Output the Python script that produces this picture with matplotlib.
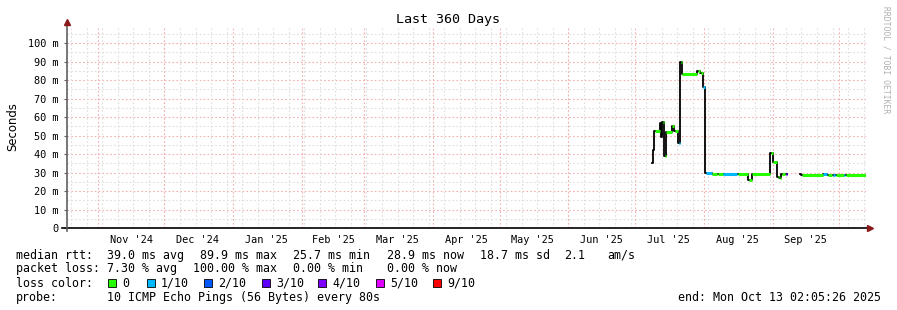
import matplotlib
matplotlib.use("Agg")
import matplotlib.pyplot as plt
import matplotlib.dates as mdates
import numpy as np
from matplotlib.patches import Rectangle

plt.rcParams["font.family"] = ["DejaVu Sans Mono"]

# ---- data ----------------------------------------------------------------
start_time = np.datetime64("2024-10-18T02:05:26")
end_time = np.datetime64("2025-10-13T02:05:26")

step_start = [
    "2025-07-08T20:00", "2025-07-09T06:00", "2025-07-09T18:00", "2025-07-12T06:00",
    "2025-07-12T18:00", "2025-07-13T06:00", "2025-07-14T00:00", "2025-07-14T18:00",
    "2025-07-17T12:00", "2025-07-18T12:00", "2025-07-20T12:00", "2025-07-21T12:00",
    "2025-07-22T00:00", "2025-07-29T00:00", "2025-07-30T06:00", "2025-07-31T12:00",
    "2025-08-01T12:00", "2025-08-04T12:00", "2025-08-07T00:00", "2025-08-09T12:00",
    "2025-08-16T00:00", "2025-08-21T00:00", "2025-08-22T12:00", "2025-08-31T00:00",
    "2025-09-01T00:00", "2025-09-03T00:00", "2025-09-04T00:00", "2025-09-05T00:00",
    "2025-09-06T12:00", "2025-09-07T12:00", "2025-09-13T06:00", "2025-09-14T00:00",
    "2025-09-23T12:00", "2025-09-25T12:00", "2025-09-27T18:00", "2025-09-29T00:00",
    "2025-10-03T00:00", "2025-10-03T18:00",
]
median_ms = [
    35.0, 42.0, 52.5, 57.0,
    49.0, 57.5, 39.0, 52.0,
    55.0, 52.5, 46.0, 90.0,
    83.0, 85.0, 84.0, 76.0,
    29.5, 29.3, 29.2, 29.3,
    29.2, 26.0, 29.0, 40.5,
    35.5, 27.5, 27.0, 29.3,
    29.3, np.nan, 29.0, 28.8,
    29.0, 28.8, 28.9, 28.8,
    28.9, 28.8,
]
loss_idx = [
    0, 1, 0, 0,
    1, 0, 0, 0,
    0, 0, 1, 0,
    0, 0, 0, 1,
    1, 0, 0, 1,
    0, 0, 0, 0,
    0, 0, 0, 0,
    3, 0, 6, 0,
    1, 0, 1, 0,
    1, 0,
]

loss_labels = ["0", "1/10", "2/10", "3/10", "4/10", "5/10", "9/10"]
loss_colors = ["#26ff00", "#00b8ff", "#0059ff", "#5e00ff", "#7e00ff", "#dd00ff", "#ff0000"]

stats_rtt = ["39.0 ms avg", "89.9 ms max", "25.7 ms min", "28.9 ms now", "18.7 ms sd", "2.1", "am/s"]
stats_loss = ["7.30 % avg", "100.00 % max", "0.00 % min", "0.00 % now"]

month_labels = ["Nov '24", "Dec '24", "Jan '25", "Feb '25", "Mar '25", "Apr '25",
                "May '25", "Jun '25", "Jul '25", "Aug '25", "Sep '25"]
month_label_at = ["2024-11-16", "2024-12-16", "2025-01-16", "2025-02-15", "2025-03-16",
                  "2025-04-16", "2025-05-16", "2025-06-16", "2025-07-16", "2025-08-16",
                  "2025-09-16"]
y_ticks = [0, 10, 20, 30, 40, 50, 60, 70, 80, 90, 100]

# ---- figure ----------------------------------------------------------------
W, H = 897, 310
fig = plt.figure(figsize=(W / 100, H / 100), dpi=100)
fig.patch.set_facecolor("white")
ax = fig.add_axes([67 / W, 82 / H, 799 / W, 202 / H])
ax.set_facecolor("white")

x0 = mdates.date2num(start_time)
x1 = mdates.date2num(end_time)
ax.set_xlim(x0, x1)
ax.set_ylim(0, 109.2)

# grid
minor_c, major_c = "#dedede", "#f4b0b0"
dots = (0, (1.5, 2))
for v in np.arange(5, 110, 5):
    ax.axhline(v, color=major_c if v % 10 == 0 else minor_c, lw=0.8, ls=dots, zorder=1)
sundays = np.arange(np.datetime64("2024-10-20"), end_time, np.timedelta64(7, "D"))
for d in sundays:
    ax.axvline(mdates.date2num(d), color=minor_c, lw=0.8, ls=dots, zorder=1)
month_starts = np.arange(np.datetime64("2024-11"), np.datetime64("2025-11"), np.timedelta64(1, "M"))
for m in month_starts:
    mx = mdates.date2num(m.astype("datetime64[D]"))
    if x0 < mx < x1:
        ax.axvline(mx, color=major_c, lw=0.8, ls=dots, zorder=1)

# median line, coloured by loss
tx = mdates.date2num(np.array(step_start, dtype="datetime64[m]"))
edges = np.append(tx, x1)
vals = np.array(median_ms, dtype=float)
ax.step(edges, np.append(vals, vals[-1]), where="post", color="black", lw=1.3, zorder=3)
for i, v in enumerate(vals):
    if np.isnan(v):
        continue
    ax.hlines(v, edges[i] + 0.35, edges[i + 1], color=loss_colors[loss_idx[i]], lw=2.2, zorder=4)

# axes decoration
for s in ax.spines.values():
    s.set_visible(False)
ax.plot([-5 / 799, 1 + 4 / 799], [0, 0], transform=ax.transAxes, color="black",
        lw=1.2, clip_on=False, zorder=5)
ax.plot([0, 0], [-3 / 202, 1 + 2 / 202], transform=ax.transAxes, color="#606060",
        lw=1.2, clip_on=False, zorder=5)
ax.plot([1 + 4 / 799], [0], transform=ax.transAxes, marker=">", color="#8b1a1a",
        ms=4, clip_on=False, zorder=6)
ax.plot([0], [1 + 4 / 202], transform=ax.transAxes, marker="^", color="#8b1a1a",
        ms=4, clip_on=False, zorder=6)

ax.set_yticks(y_ticks)
ax.set_yticklabels([f"{t} m" if t else "0" for t in y_ticks])
ax.tick_params(axis="y", length=2.5, width=0.8, color="#606060", pad=3.5,
               labelsize=7.4, labelcolor="black")
ax.set_xticks(mdates.date2num(np.array(month_label_at, dtype="datetime64[D]")))
ax.set_xticklabels(month_labels)
ax.tick_params(axis="x", length=0, pad=5, labelsize=7.4)

ax.set_ylabel("Seconds", fontsize=8.4, labelpad=6, family="DejaVu Sans")

# title and side text
fig.text(448 / W, 1 - 19 / H, "Last 360 Days", ha="center", va="center", fontsize=9.6)
fig.text(886 / W, 1 - 60 / H, "RRDTOOL / TOBI OETIKER", rotation=270, ha="center",
         va="center", fontsize=5.8, color="#b0b0b0")

# legend block (baselines)
fs = 8.37
def row(y, items):
    for xp, s in items:
        fig.text(xp / W, 1 - y / H, s, ha="left", va="baseline", fontsize=fs)

row(259, [(16, "median rtt:")] + list(zip([107, 200, 293, 387, 480, 564, 607], stats_rtt)))
row(272, [(16, "packet loss:")] + list(zip([107, 193, 293, 387], stats_loss)))
row(287, [(16, "loss color:")])
square_x = [108, 147, 204, 262, 318, 376, 433]
for sx, lab, col in zip(square_x, loss_labels, loss_colors):
    fig.add_artist(Rectangle((sx / W, 1 - 287 / H), 8 / W, 8 / H, transform=fig.transFigure,
                             facecolor=col, edgecolor="black", lw=0.6))
    fig.text((sx + 14) / W, 1 - 287 / H, lab, ha="left", va="baseline", fontsize=fs)
row(301, [(16, "probe:"), (107, "10 ICMP Echo Pings (56 Bytes) every 80s")])
fig.text(881 / W, 1 - 301 / H, "end: Mon Oct 13 02:05:26 2025", ha="right", va="baseline",
         fontsize=fs)

fig.savefig("out.png", dpi=100)
